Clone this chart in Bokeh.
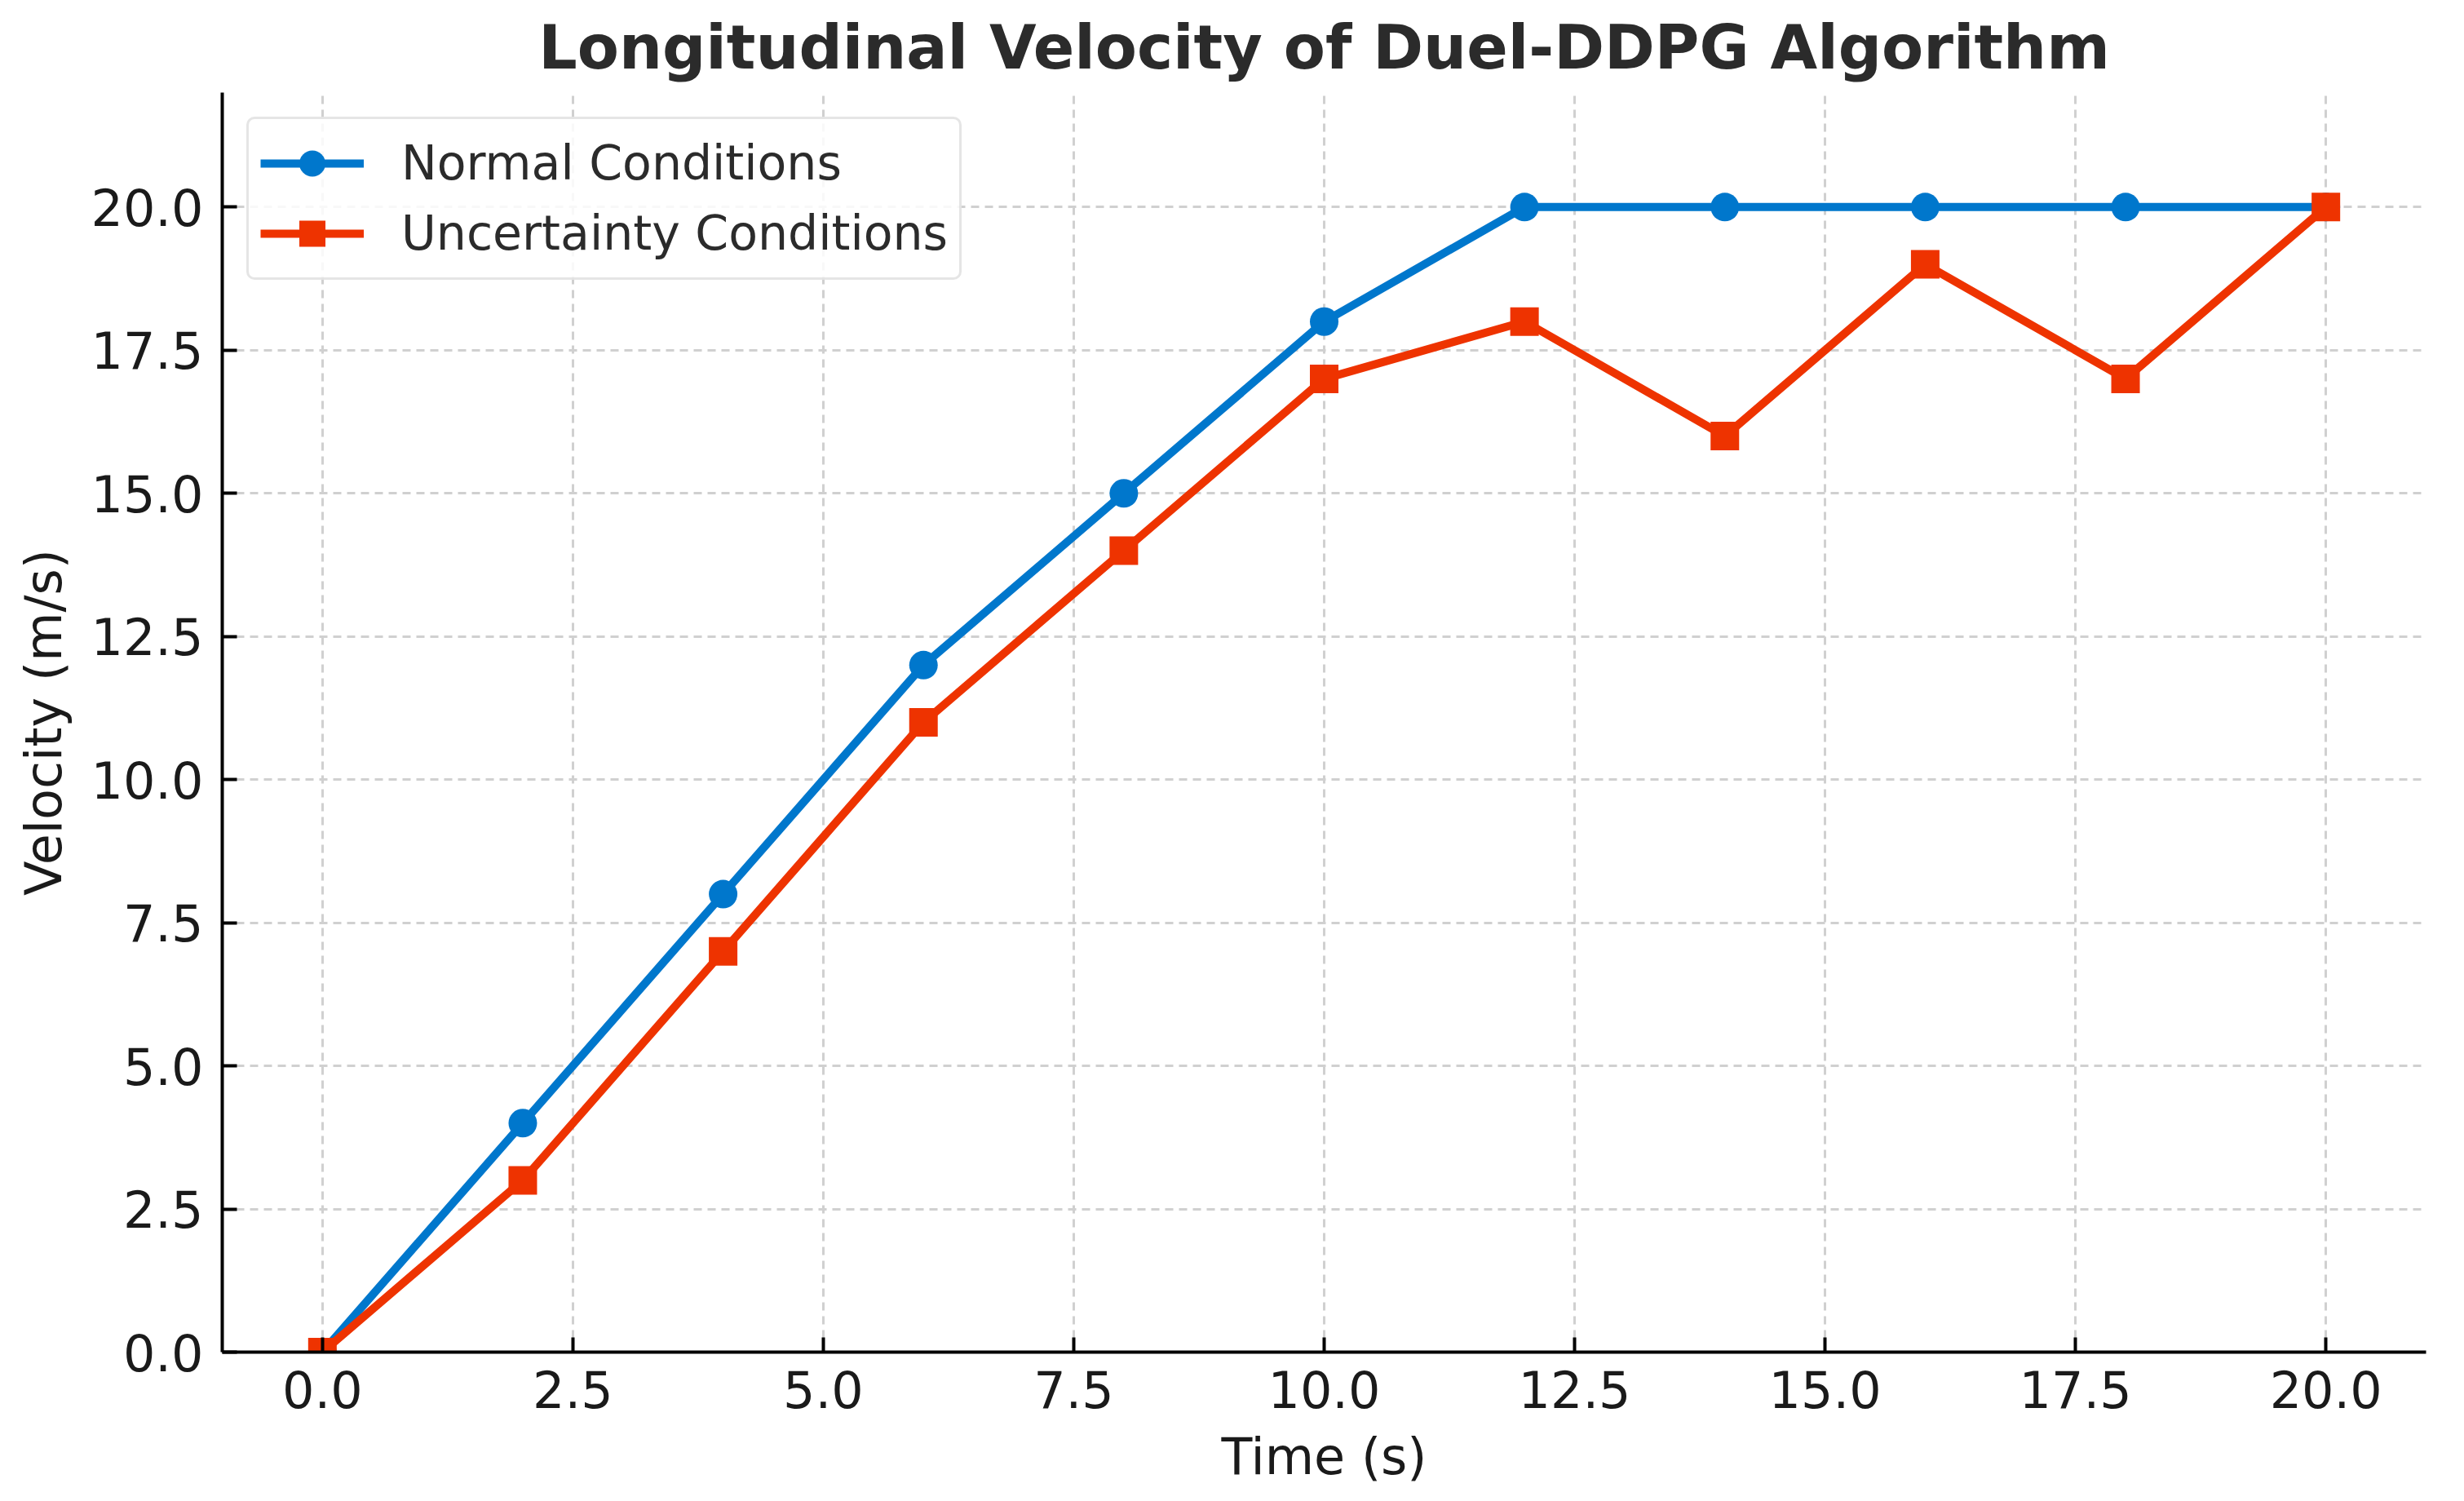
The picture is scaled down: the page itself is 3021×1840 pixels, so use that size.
from bokeh.plotting import figure
from bokeh.models import Range1d, FixedTicker, Legend, LegendItem
from bokeh.embed import file_html
from bokeh.resources import INLINE

# ---- data ----
time_s = [0, 2, 4, 6, 8, 10, 12, 14, 16, 18, 20]
normal_v = [0, 4, 8, 12, 15, 18, 20, 20, 20, 20, 20]
uncert_v = [0, 3, 7, 11, 14, 17, 18, 16, 19, 17, 20]

x_ticks = [0, 2.5, 5, 7.5, 10, 12.5, 15, 17.5, 20]
x_tick_labels = ["0.0", "2.5", "5.0", "7.5", "10.0", "12.5", "15.0", "17.5", "20.0"]
y_ticks = [0, 2.5, 5, 7.5, 10, 12.5, 15, 17.5, 20]
y_tick_labels = ["0.0", "2.5", "5.0", "7.5", "10.0", "12.5", "15.0", "17.5", "20.0"]

title_text = "Longitudinal Velocity of Duel-DDPG Algorithm"
x_label = "Time (s)"
y_label = "Velocity (m/s)"
series_names = ["Normal Conditions", "Uncertainty Conditions"]

BLUE = "#0077CC"
RED = "#EE3300"
FONT = "DejaVu Sans"
TXT = "#1a1a1a"

p = figure(width=3005, height=1824,
           x_range=Range1d(-1, 21), y_range=Range1d(0, 22),
           output_backend="svg", toolbar_location=None,
           min_border_left=272, min_border_right=31,
           min_border_top=112, min_border_bottom=167)

p.outline_line_color = None
p.background_fill_color = "white"
p.border_fill_color = "white"

# title
p.title.text = title_text
p.title.align = "center"
p.title.text_font = FONT
p.title.text_font_size = "74.5px"
p.title.text_font_style = "bold"
p.title.text_color = "#2b2b2b"
p.title.standoff = 24

# axes
for ax, ticks, labels in ((p.xaxis[0], x_ticks, x_tick_labels), (p.yaxis[0], y_ticks, y_tick_labels)):
    ax.ticker = FixedTicker(ticks=ticks, minor_ticks=[])
    ax.major_label_overrides = {t: l for t, l in zip(ticks, labels)}
    ax.axis_line_color = "black"
    ax.axis_line_width = 4
    ax.major_tick_line_color = "black"
    ax.major_tick_line_width = 4
    ax.major_tick_in = 18
    ax.major_tick_out = 0
    ax.minor_tick_line_color = None
    ax.major_label_text_font = FONT
    ax.major_label_text_font_size = "62px"
    ax.major_label_text_color = TXT
    ax.axis_label_text_font = FONT
    ax.axis_label_text_font_size = "62px"
    ax.axis_label_text_font_style = "normal"
    ax.axis_label_text_color = TXT

p.xaxis.axis_label = x_label
p.yaxis.axis_label = y_label
p.xaxis.major_label_standoff = 22
p.yaxis.major_label_standoff = 23
p.xaxis.axis_label_standoff = 20
p.yaxis.axis_label_standoff = 18

# grid
p.grid.grid_line_color = "#d0d0d0"
p.grid.grid_line_width = 3
p.grid.grid_line_dash = "10 7"

# series
l1 = p.line(time_s, normal_v, line_color=BLUE, line_width=10, line_join="round")
s1 = p.scatter(time_s, normal_v, marker="circle", size=35, fill_color=BLUE, line_color=BLUE, line_width=0)
l2 = p.line(time_s, uncert_v, line_color=RED, line_width=10, line_join="round")
s2 = p.scatter(time_s, uncert_v, marker="square", size=35, fill_color=RED, line_color=RED, line_width=0)

legend = Legend(items=[LegendItem(label=series_names[0], renderers=[l1, s1]),
                       LegendItem(label=series_names[1], renderers=[l2, s2])],
                location="top_left")
legend.margin = 30
legend.padding = 14
legend.spacing = 6
legend.glyph_width = 127
legend.glyph_height = 80
legend.label_height = 80
legend.label_standoff = 46
legend.label_text_font = FONT
legend.label_text_font_size = "58.5px"
legend.label_text_color = "#2b2b2b"
legend.border_line_color = "#cccccc"
legend.border_line_width = 3
legend.background_fill_color = "white"
legend.background_fill_alpha = 0.85
if "border_radius" in Legend.properties():
    legend.border_radius = 10
p.add_layout(legend)

open("out.html", "w").write(file_html(p, INLINE))
